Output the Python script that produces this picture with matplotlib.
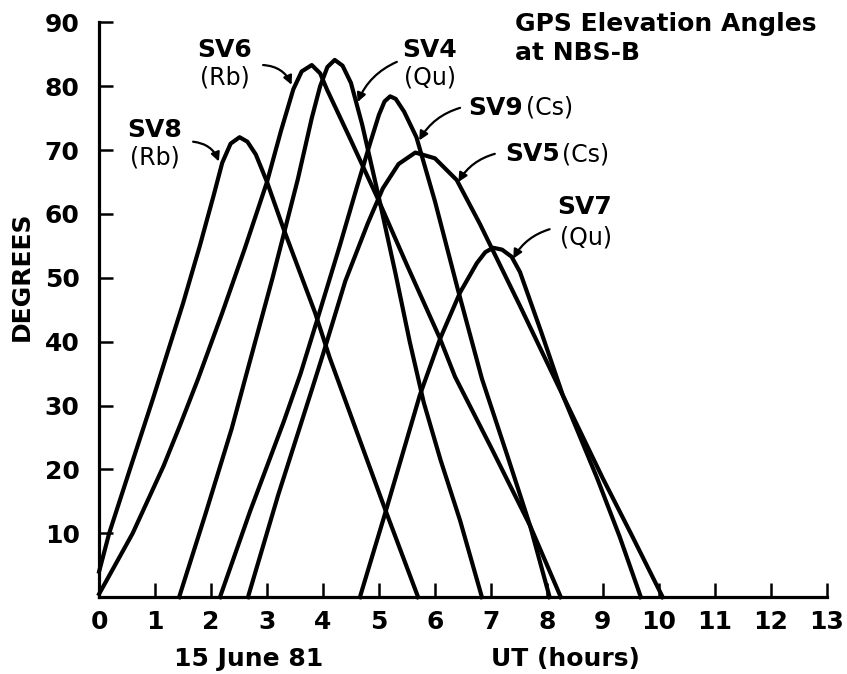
import matplotlib
matplotlib.use("Agg")
import matplotlib.pyplot as plt

# elevation angle (degrees) vs UT (hours)
sv8_t = [0, 0.18, 0.55, 0.96, 1.5, 1.8, 2.05, 2.2, 2.35, 2.51, 2.65, 2.8, 3.0, 3.29, 3.86, 4.12, 5.1, 5.7]
sv8_el = [4, 10, 20, 31, 46, 55, 63, 68, 71, 72, 71.3, 69.3, 65, 57.8, 44.5, 37.5, 14, 0]

sv6_t = [0, 0.6, 1.15, 1.45, 1.77, 2.2, 2.6, 3.0, 3.25, 3.47, 3.62, 3.8, 3.95, 4.07, 4.5, 5.0, 5.5, 6.09, 6.36, 7.0, 7.7, 8.25]
sv6_el = [0.5, 10, 20.5, 27, 34.2, 44.5, 54.5, 65, 73, 79.5, 82.3, 83.3, 82, 79.5, 71.5, 62, 52, 40.5, 34.5, 23.5, 11.2, 0]

sv4_t = [1.43, 1.9, 2.37, 2.61, 3.1, 3.55, 3.8, 3.95, 4.08, 4.21, 4.35, 4.5, 4.7, 5.0, 5.3, 5.55, 5.8, 6.1, 6.45, 6.84]
sv4_el = [0, 13, 26.4, 34.2, 50, 65.4, 75, 80, 83, 84.1, 83.2, 80.5, 74, 62.5, 50.5, 40, 30.5, 21.5, 12, 0]

sv9_t = [2.16, 2.7, 3.3, 3.6, 3.9, 4.3, 4.6, 4.84, 5.0, 5.1, 5.2, 5.3, 5.45, 5.67, 6.0, 6.4, 6.84, 7.3, 7.7, 8.05]
sv9_el = [0, 13.5, 27.5, 35, 43.5, 55, 64, 71, 75.5, 77.6, 78.4, 78, 76, 72, 62, 48.5, 34.2, 22, 11.2, 0]

sv5_t = [2.66, 3.2, 3.82, 4.0, 4.4, 4.8, 5.07, 5.35, 5.65, 6.0, 6.39, 6.8, 7.52, 8.29, 9.0, 9.5, 10.07]
sv5_el = [0, 16, 33, 38, 49.5, 58.5, 64, 67.8, 69.6, 68.7, 65.3, 58.5, 45.6, 31.5, 18.6, 10, 0]

sv7_t = [4.66, 5.11, 5.73, 6.09, 6.45, 6.75, 6.9, 7.04, 7.2, 7.37, 7.52, 7.9, 8.29, 8.9, 9.3, 9.68]
sv7_el = [0, 13.1, 31.6, 40.4, 47.7, 52.3, 54, 54.7, 54.4, 53.3, 50.9, 41.5, 31.5, 18.6, 9.5, 0]

x_ticks = list(range(0, 14))
y_ticks = list(range(10, 100, 10))

fig = plt.figure(figsize=(8.47, 6.74), dpi=100)
ax = fig.add_axes([0.117, 0.114, 0.859, 0.853])

for t, el in [(sv8_t, sv8_el), (sv6_t, sv6_el), (sv4_t, sv4_el),
              (sv9_t, sv9_el), (sv5_t, sv5_el), (sv7_t, sv7_el)]:
    ax.plot(t, el, color='black', lw=3.0, solid_joinstyle='round', clip_on=False)

ax.set_xlim(0, 13)
ax.set_ylim(0, 90)
ax.set_xticks(x_ticks)
ax.set_yticks(y_ticks)
ax.spines['top'].set_visible(False)
ax.spines['right'].set_visible(False)
ax.spines['left'].set_linewidth(2.3)
ax.spines['bottom'].set_linewidth(2.3)
ax.tick_params(direction='in', length=10, width=1.8, labelsize=18)
ax.tick_params(axis='y', pad=14)
ax.tick_params(axis='x', pad=9)
for lab in ax.get_xticklabels() + ax.get_yticklabels():
    lab.set_fontweight('bold')

bold = dict(fontsize=18, fontweight='bold', color='black')
light = dict(fontsize=17, color='black')
arrow = dict(arrowstyle='-|>', lw=1.6, color='black', mutation_scale=13,
             shrinkA=0, shrinkB=0)

# satellite labels
ax.text(1.0, 73.2, 'SV8', ha='center', va='center', **bold)
ax.text(1.0, 68.8, '(Rb)', ha='center', va='center', **light)
ax.annotate('', xy=(2.14, 68.2), xytext=(1.68, 71.3),
            arrowprops=dict(connectionstyle='arc3,rad=-0.3', **arrow))

ax.text(2.25, 85.6, 'SV6', ha='center', va='center', **bold)
ax.text(2.25, 81.3, '(Rb)', ha='center', va='center', **light)
ax.annotate('', xy=(3.44, 80.2), xytext=(2.93, 83.3),
            arrowprops=dict(connectionstyle='arc3,rad=-0.3', **arrow))

ax.text(5.91, 85.6, 'SV4', ha='center', va='center', **bold)
ax.text(5.91, 81.3, '(Qu)', ha='center', va='center', **light)
ax.annotate('', xy=(4.62, 77.5), xytext=(5.32, 83.8),
            arrowprops=dict(connectionstyle='arc3,rad=0.2', **arrow))

ax.text(6.6, 76.6, 'SV9', ha='left', va='center', **bold)
ax.text(7.62, 76.6, '(Cs)', ha='left', va='center', **light)
ax.annotate('', xy=(5.72, 71.5), xytext=(6.45, 76.6),
            arrowprops=dict(connectionstyle='arc3,rad=0.2', **arrow))

ax.text(7.25, 69.3, 'SV5', ha='left', va='center', **bold)
ax.text(8.27, 69.3, '(Cs)', ha='left', va='center', **light)
ax.annotate('', xy=(6.42, 65.0), xytext=(7.07, 69.4),
            arrowprops=dict(connectionstyle='arc3,rad=0.2', **arrow))

ax.text(8.68, 61.0, 'SV7', ha='center', va='center', **bold)
ax.text(8.7, 56.3, '(Qu)', ha='center', va='center', **light)
ax.annotate('', xy=(7.40, 53.0), xytext=(8.05, 57.6),
            arrowprops=dict(connectionstyle='arc3,rad=0.2', **arrow))

# title block
ax.text(7.43, 89.7, 'GPS Elevation Angles', ha='left', va='center', **bold)
ax.text(7.43, 85.2, 'at NBS-B', ha='left', va='center', **bold)

fig.text(0.026, 0.59, 'DEGREES', rotation=90, ha='center', va='center', **bold)
fig.text(0.293, 0.022, '15 June 81', ha='center', va='center', **bold)
fig.text(0.667, 0.022, 'UT (hours)', ha='center', va='center', **bold)

fig.savefig('out.png', dpi=100)
